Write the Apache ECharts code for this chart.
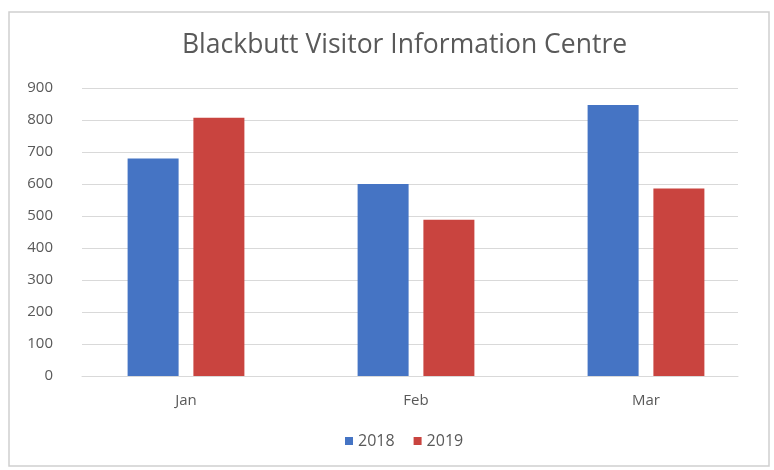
<!DOCTYPE html>
<html>
<head>
<meta charset="utf-8">
<script src="https://cdn.jsdelivr.net/npm/echarts@6/dist/echarts.min.js"></script>
<style>html,body{margin:0;padding:0;background:#fff;}#c{width:774px;height:470px;}</style>
</head>
<body>
<div id="c"></div>
<script>
const titleText = "Blackbutt Visitor Information Centre";
const categories = ["Jan", "Feb", "Mar"];
const seriesNames = ["2018", "2019"];
const values2018 = [680, 600, 847];
const values2019 = [807, 488, 586];
const yTicks = [0, 100, 200, 300, 400, 500, 600, 700, 800, 900];

const chart = echarts.init(document.getElementById('c'), null, {renderer: 'canvas'});
const font = '"Open Sans", Lato, sans-serif';
const textColor = '#595959';
const gridColor = '#d9d9d9';
const yMax = yTicks[yTicks.length - 1];
const yStep = yTicks[1] - yTicks[0];

chart.setOption({
  animation: false,
  backgroundColor: '#ffffff',
  graphic: [{
    type: 'rect', shape: {x: 9, y: 12, width: 760, height: 454},
    style: {fill: 'none', stroke: '#d0d0d0', lineWidth: 1.5}, silent: true, z: -1
  }],
  title: {
    text: titleText, left: 177, top: 27,
    textStyle: {fontFamily: font, fontSize: 26.5, fontWeight: 'normal', color: textColor}
  },
  legend: {
    data: seriesNames, bottom: 16, left: 340, icon: 'rect',
    itemWidth: 8, itemHeight: 8, itemGap: 19,
    textStyle: {fontFamily: font, fontSize: 16, color: textColor}
  },
  grid: [
    {left: 82, right: 36, top: 88, bottom: 94},
    {left: 71, right: 13, top: 88, bottom: 94}
  ],
  xAxis: [
    {type: 'category', gridIndex: 0, data: categories,
     axisLine: {lineStyle: {color: gridColor}}, axisTick: {show: false}, axisLabel: {show: false}},
    {type: 'category', gridIndex: 1, data: categories,
     axisLine: {show: false}, axisTick: {show: false},
     axisLabel: {fontFamily: font, fontSize: 15, color: textColor, margin: 17}}
  ],
  yAxis: [
    {type: 'value', gridIndex: 0, min: 0, max: yMax, interval: yStep,
     axisLine: {show: false}, axisTick: {show: false},
     axisLabel: {fontFamily: font, fontSize: 15, color: textColor, margin: 29},
     splitLine: {lineStyle: {color: gridColor, width: 1}}},
    {type: 'value', gridIndex: 1, min: 0, max: yMax, interval: yStep, show: false,
     splitLine: {show: false}}
  ],
  series: [
    {name: seriesNames[0], type: 'bar', xAxisIndex: 1, yAxisIndex: 1, data: values2018,
     barWidth: 51, barGap: '29%', itemStyle: {color: '#4574C4'}},
    {name: seriesNames[1], type: 'bar', xAxisIndex: 1, yAxisIndex: 1, data: values2019,
     barWidth: 51, barGap: '29%', itemStyle: {color: '#C9443F'}}
  ]
});
</script>
</body>
</html>
